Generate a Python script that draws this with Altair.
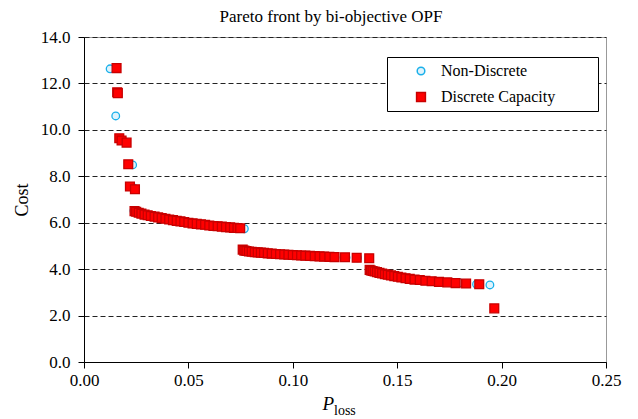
import altair as alt
import pandas as pd

# Non-Discrete series (P_loss, Cost)
nd_x = [0.0125, 0.0152, 0.0172, 0.0200, 0.0233, 0.0238,
        0.0239, 0.0255, 0.0285, 0.0320, 0.0365, 0.0410, 0.0445, 0.0500, 0.0560,
        0.0605, 0.0650, 0.0685, 0.0720, 0.0768,
        0.0762, 0.0790, 0.0830, 0.0880, 0.0940, 0.1000, 0.1050, 0.1085, 0.1150,
        0.1202, 0.1255, 0.1310,
        0.1370, 0.1395, 0.1430, 0.1475, 0.1520, 0.1580, 0.1640, 0.1700, 0.1760,
        0.1800, 0.1880, 0.1944]
nd_y = [12.63, 10.60, 9.60, 9.47, 8.49, 7.50,
        6.52, 6.46, 6.36, 6.29, 6.21, 6.13, 6.08, 6.00, 5.93,
        5.88, 5.84, 5.81, 5.79, 5.74,
        4.85, 4.76, 4.72, 4.68, 4.64, 4.61, 4.58, 4.56, 4.53,
        4.51, 4.50, 4.49,
        3.98, 3.91, 3.81, 3.73, 3.64, 3.56, 3.51, 3.46, 3.43,
        3.41, 3.35, 3.32]

# Discrete Capacity series (P_loss, Cost)
dc_x = [0.0156, 0.0159, 0.0162, 0.0169, 0.0180, 0.0204, 0.0212, 0.0220, 0.0244,
        0.0242, 0.0250, 0.0262, 0.0275, 0.0290, 0.0305, 0.0320, 0.0338, 0.0355,
        0.0372, 0.0390, 0.0408, 0.0426, 0.0444, 0.0462, 0.0480, 0.0500, 0.0520,
        0.0540, 0.0560, 0.0580, 0.0600, 0.0620, 0.0640, 0.0660, 0.0680, 0.0700,
        0.0718, 0.0735, 0.0748,
        0.0760, 0.0768, 0.0778, 0.0790, 0.0803, 0.0818, 0.0832, 0.0847, 0.0862,
        0.0880, 0.0899, 0.0919, 0.0939, 0.0959, 0.0979, 0.1000, 0.1020, 0.1040,
        0.1060, 0.1082, 0.1105, 0.1128, 0.1150, 0.1175, 0.1200, 0.1250, 0.1306,
        0.1366,
        0.1368, 0.1374, 0.1382, 0.1392, 0.1403, 0.1415, 0.1428, 0.1441, 0.1455,
        0.1470, 0.1486, 0.1503, 0.1520, 0.1540, 0.1560, 0.1583, 0.1608, 0.1635,
        0.1665, 0.1700, 0.1740, 0.1780, 0.1830, 0.1893,
        0.1965]
dc_y = [12.66, 11.62, 11.58, 9.64, 9.54, 9.45, 8.52, 7.56, 7.44,
        6.50, 6.47, 6.43, 6.39, 6.35, 6.32, 6.29, 6.26, 6.23,
        6.20, 6.17, 6.14, 6.11, 6.08, 6.06, 6.03, 6.00, 5.97,
        5.95, 5.93, 5.91, 5.88, 5.86, 5.85, 5.83, 5.81, 5.80,
        5.78, 5.77, 5.76,
        4.84, 4.80, 4.78, 4.76, 4.75, 4.73, 4.72, 4.71, 4.70,
        4.68, 4.67, 4.65, 4.64, 4.63, 4.62, 4.61, 4.60, 4.59,
        4.58, 4.57, 4.56, 4.55, 4.54, 4.53, 4.52, 4.51, 4.49,
        4.47,
        3.97, 3.94, 3.92, 3.90, 3.87, 3.84, 3.81, 3.78, 3.76,
        3.73, 3.70, 3.67, 3.64, 3.61, 3.58, 3.55, 3.53, 3.50,
        3.48, 3.45, 3.43, 3.40, 3.38, 3.35,
        2.31]

series_names = ["Non-Discrete", "Discrete Capacity"]
x_ticks = [0.0, 0.05, 0.10, 0.15, 0.20, 0.25]
y_ticks = [0.0, 2.0, 4.0, 6.0, 8.0, 10.0, 12.0, 14.0]

df = pd.concat([
    pd.DataFrame({"ploss": nd_x, "cost": nd_y, "series": series_names[0]}),
    pd.DataFrame({"ploss": dc_x, "cost": dc_y, "series": series_names[1]}),
], ignore_index=True)
df["order"] = df["series"].map({series_names[0]: 0, series_names[1]: 1})

FONT = "Liberation Serif"
W, H = 522, 325
PAD_LABEL = "datum.label + '\u2800\u2800\u2800'"


def leg():
    return alt.Legend(title=None, labelExpr=PAD_LABEL)


points = alt.Chart(df).mark_point(filled=True, fillOpacity=1, strokeWidth=1.3, opacity=1).encode(
    x=alt.X("ploss:Q", scale=alt.Scale(domain=[0, 0.25], nice=False),
            axis=alt.Axis(values=x_ticks, format=".2f", title=None, grid=False,
                          tickSize=6, labelPadding=4, domainColor="black",
                          tickColor="black", labelFontSize=17, labelFont=FONT,
                          labelColor="black", labelFlush=False)),
    y=alt.Y("cost:Q", scale=alt.Scale(domain=[0, 14], nice=False),
            axis=alt.Axis(values=y_ticks, format=".1f", title="Cost", grid=True,
                          gridDash=[5, 3], gridColor="#222222", gridWidth=1,
                          tickSize=6, labelPadding=8, domainColor="black",
                          tickColor="black", labelFontSize=17, labelFont=FONT,
                          labelColor="black", labelFlush=False,
                          titleFont=FONT, titleFontSize=18,
                          titleFontWeight="normal", titleColor="black",
                          titlePadding=9)),
    shape=alt.Shape("series:N", scale=alt.Scale(domain=series_names, range=["circle", "square"]),
                    legend=leg()),
    fill=alt.Fill("series:N", scale=alt.Scale(domain=series_names, range=["#dff3fc", "#ff0000"]),
                  legend=leg()),
    stroke=alt.Stroke("series:N", scale=alt.Scale(domain=series_names, range=["#1ab0ea", "#c80000"]),
                      legend=leg()),
    size=alt.Size("series:N", scale=alt.Scale(domain=series_names, range=[58, 78]),
                  legend=leg()),
    order=alt.Order("order:Q"),
)

xlab_p = alt.Chart(pd.DataFrame({"t": ["P"]})).mark_text(
    font=FONT, fontSize=19, fontStyle="italic", align="right", baseline="alphabetic", color="black"
).encode(text="t:N", x=alt.value(250), y=alt.value(373))

xlab_sub = alt.Chart(pd.DataFrame({"t": ["loss"]})).mark_text(
    font=FONT, fontSize=14, align="left", baseline="alphabetic", color="black"
).encode(text="t:N", x=alt.value(250), y=alt.value(378))

chart = alt.layer(points, xlab_p, xlab_sub).properties(
    width=W, height=H,
    autosize=alt.AutoSizeParams(type="none"),
    padding={"left": 76, "top": 29, "right": 20, "bottom": 56},
    title=alt.TitleParams("Pareto front by bi-objective OPF", font=FONT, fontSize=17,
                          fontWeight="normal", color="black", anchor="middle",
                          frame="group", offset=2, dx=-14),
).configure_view(
    stroke="#999999", strokeWidth=1
).configure_legend(
    orient="none", legendX=303, legendY=20, padding=6,
    strokeColor="black", strokeWidth=1, fillColor="white", cornerRadius=0,
    labelFont=FONT, labelFontSize=16, labelColor="black",
    symbolOffset=20, labelOffset=12, rowPadding=10,
)

chart.save("out.html", embed_options={"renderer": "svg", "actions": False})
